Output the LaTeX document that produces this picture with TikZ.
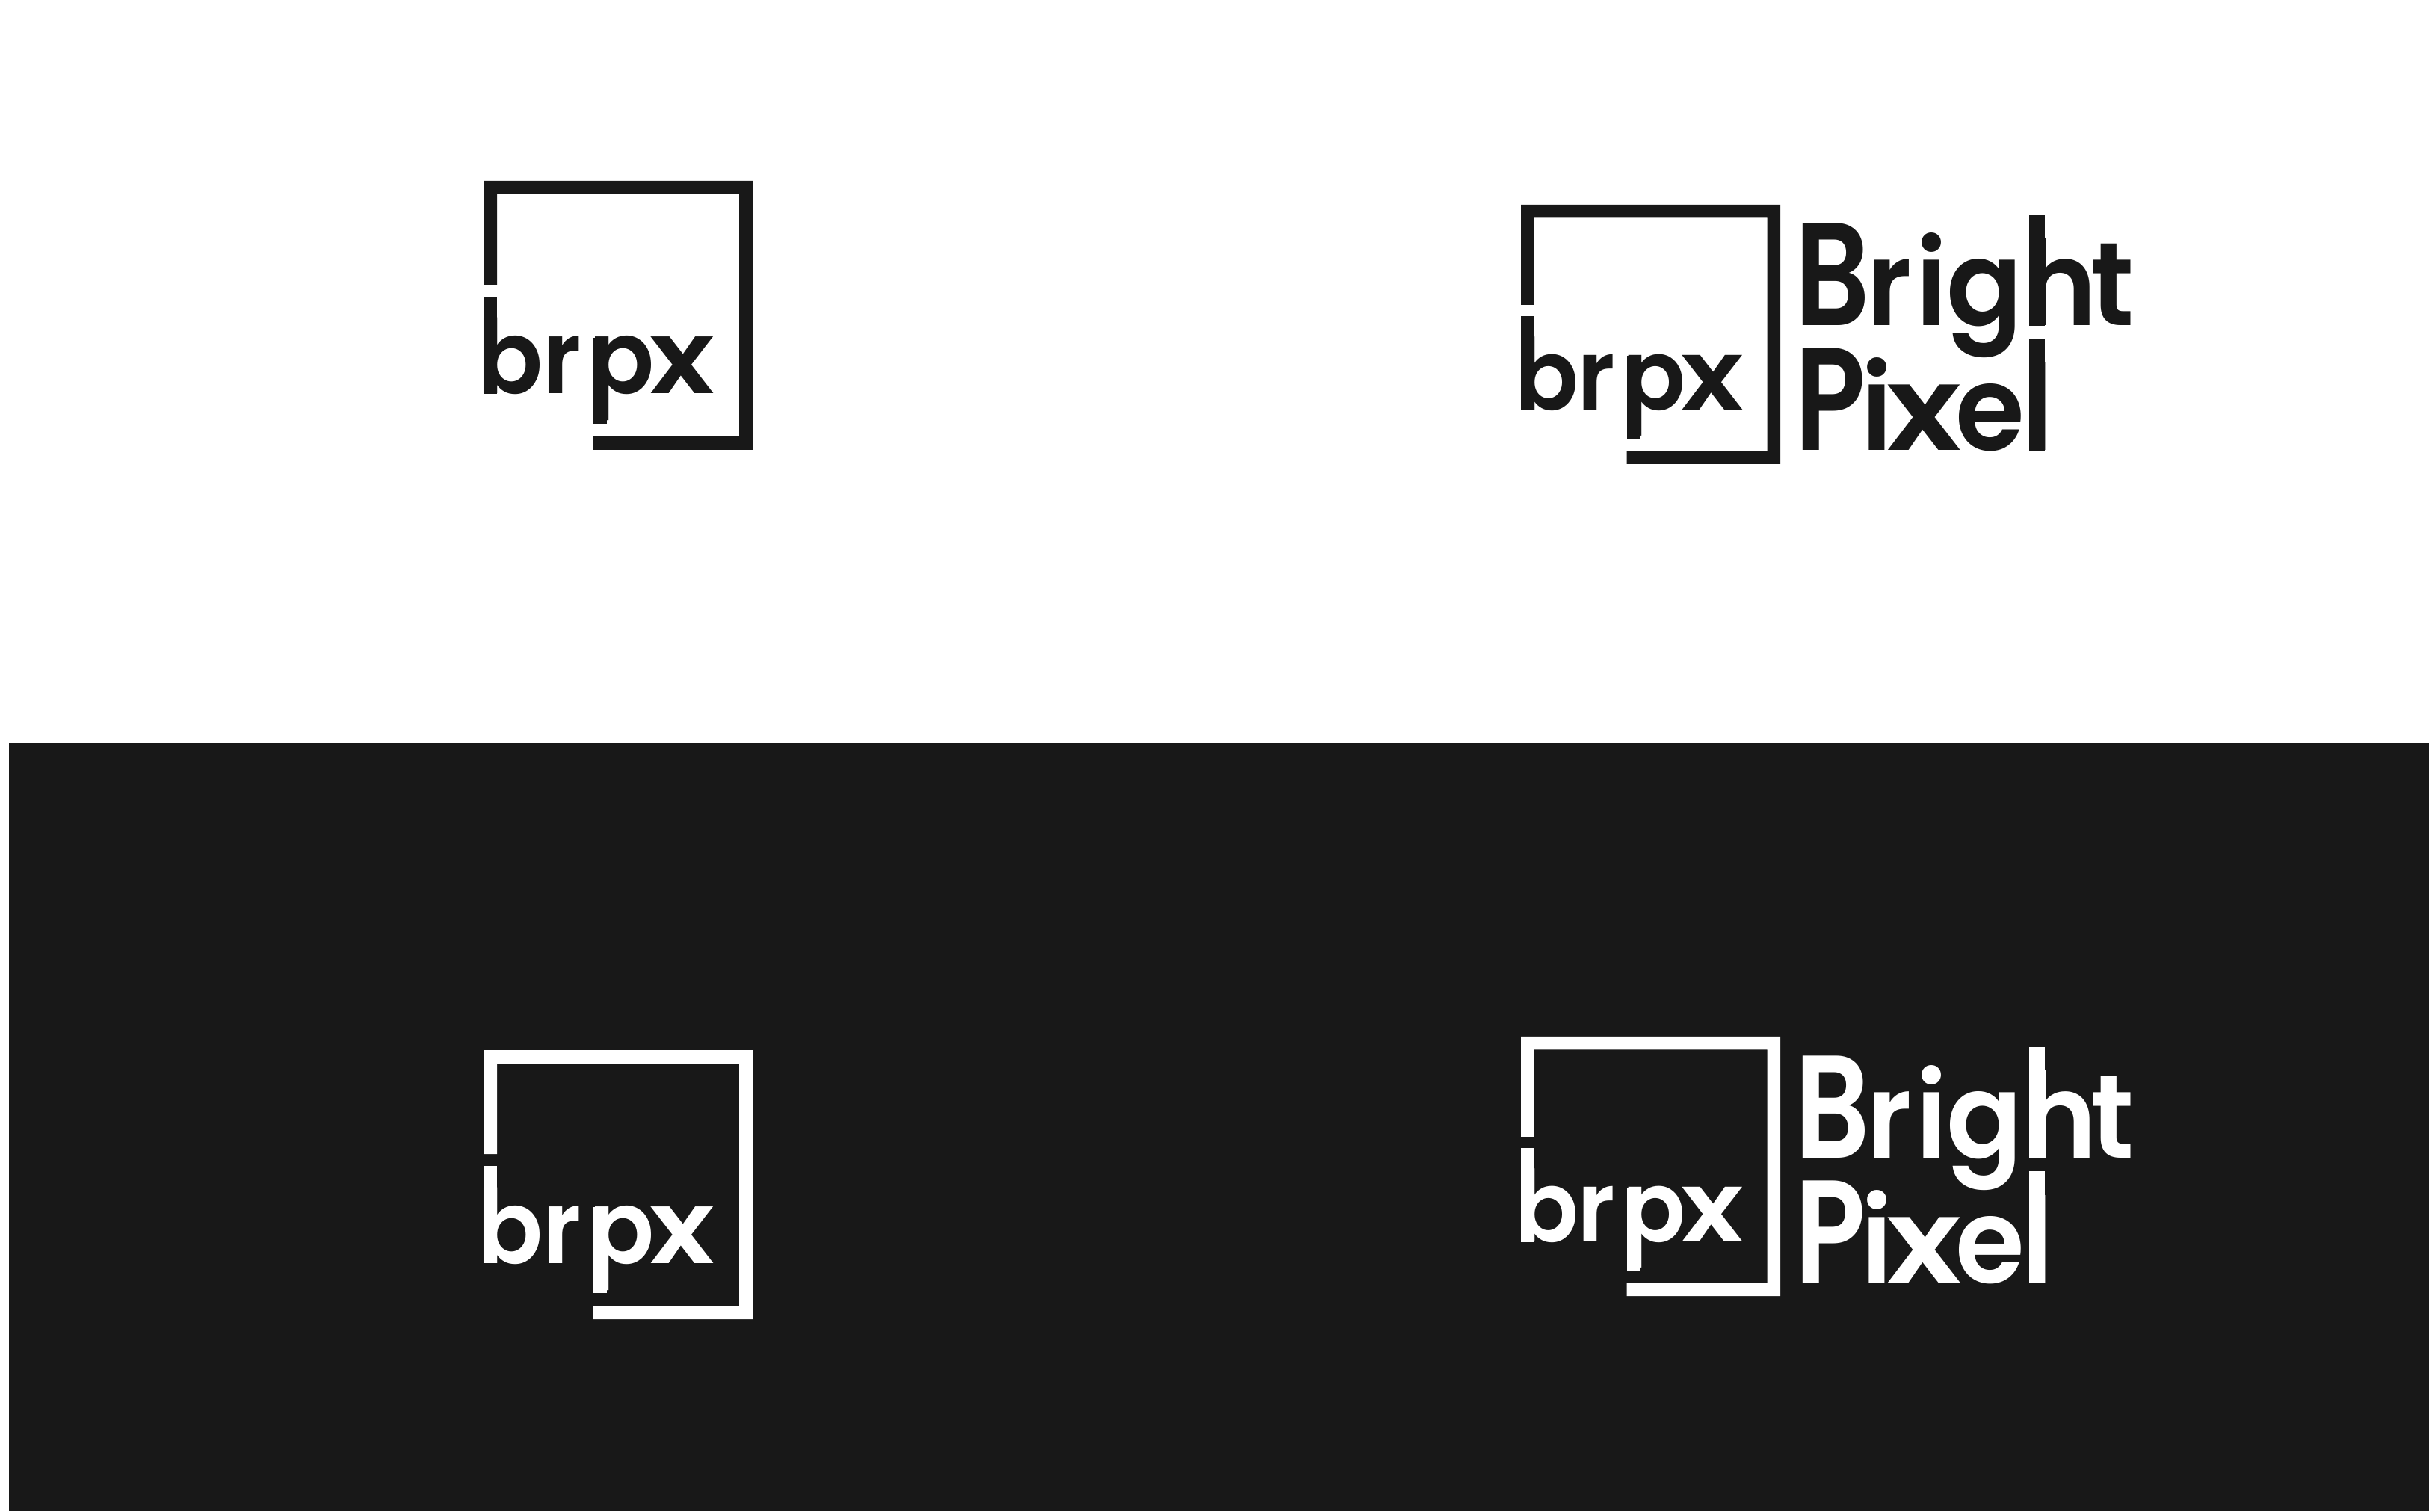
\documentclass[tikz,border=0pt]{standalone}
\usepackage{fontspec}
\setmainfont{Poppins}
\newfontfamily\brpxfont[FakeStretch=0.95]{Poppins SemiBold}
\newfontfamily\capfont[FakeStretch=0.80]{Poppins SemiBold}
\newfontfamily\widefont[FakeStretch=1.17]{Poppins SemiBold}
\definecolor{brpxink}{HTML}{181818}
\tikzset{
  markword/.style={anchor=base west,inner sep=0pt,font=\brpxfont\fontsize{39}{39}\selectfont},
  nameword/.style={anchor=base west,inner sep=0pt,font=\brpxfont\fontsize{45}{45}\selectfont},
}
\newcommand{\namecap}[1]{{\capfont\fontsize{55.7}{55.7}\selectfont #1}}
\newcommand{\widex}{{\widefont x}}
% frame, with the stems of b and p, at the lower left corner of the mark
\newcommand{\brpxmark}[3]{%
  \begin{scope}[shift={(#1)},scale=#3,transform shape,#2]
    \fill (0,3.60) -- (3.60,3.60) -- (3.60,0) -- (1.47,0) -- (1.47,0.18) -- (3.42,0.18)
          -- (3.42,3.42) -- (0.18,3.42) -- (0.18,2.21) -- (0,2.21) -- cycle;
    \fill (0,0.75) rectangle (0.18,2.05);
    \fill (1.47,0.35) rectangle (1.65,1.5);
    \node[markword] at (-0.09,0.75) {b\kern-0.02cm r\kern0.10cm p\kern-0.06cm\widex};
  \end{scope}}
% both words of the name, with the long stems of h and l
\newcommand{\brpxname}[2]{%
  \begin{scope}[shift={(#1)},#2]
    \node[nameword,text=.] at (-0.13,1.67)
      {\namecap{B}\kern-0.05cm r\kern0.05cm igh\kern-0.09cm t};
    \node[nameword,text=.] at (-0.13,0)
      {\namecap{P}\kern-0.06cm i\kern-0.08cm\widex\kern-0.08cm e\kern-0.04cm l};
    \fill (3.01,1.67) rectangle (3.22,3.15);
    \fill (3.01,0) rectangle (3.22,1.49);
  \end{scope}}
\begin{document}
\begin{tikzpicture}
\useasboundingbox (0,0) rectangle (32.5,20.22);
% ---------- dark lower band ----------
\fill[brpxink] (0.12,0) rectangle (32.5,10.28);
\brpxmark{6.47,14.20}{brpxink}{1}
\brpxmark{20.35,14.01}{brpxink}{0.964}
\brpxname{24.14,14.19}{brpxink}
\brpxmark{6.47,2.57}{white}{1}
\brpxmark{20.35,2.88}{white}{0.964}
\brpxname{24.14,3.06}{white}
\end{tikzpicture}
\end{document}
